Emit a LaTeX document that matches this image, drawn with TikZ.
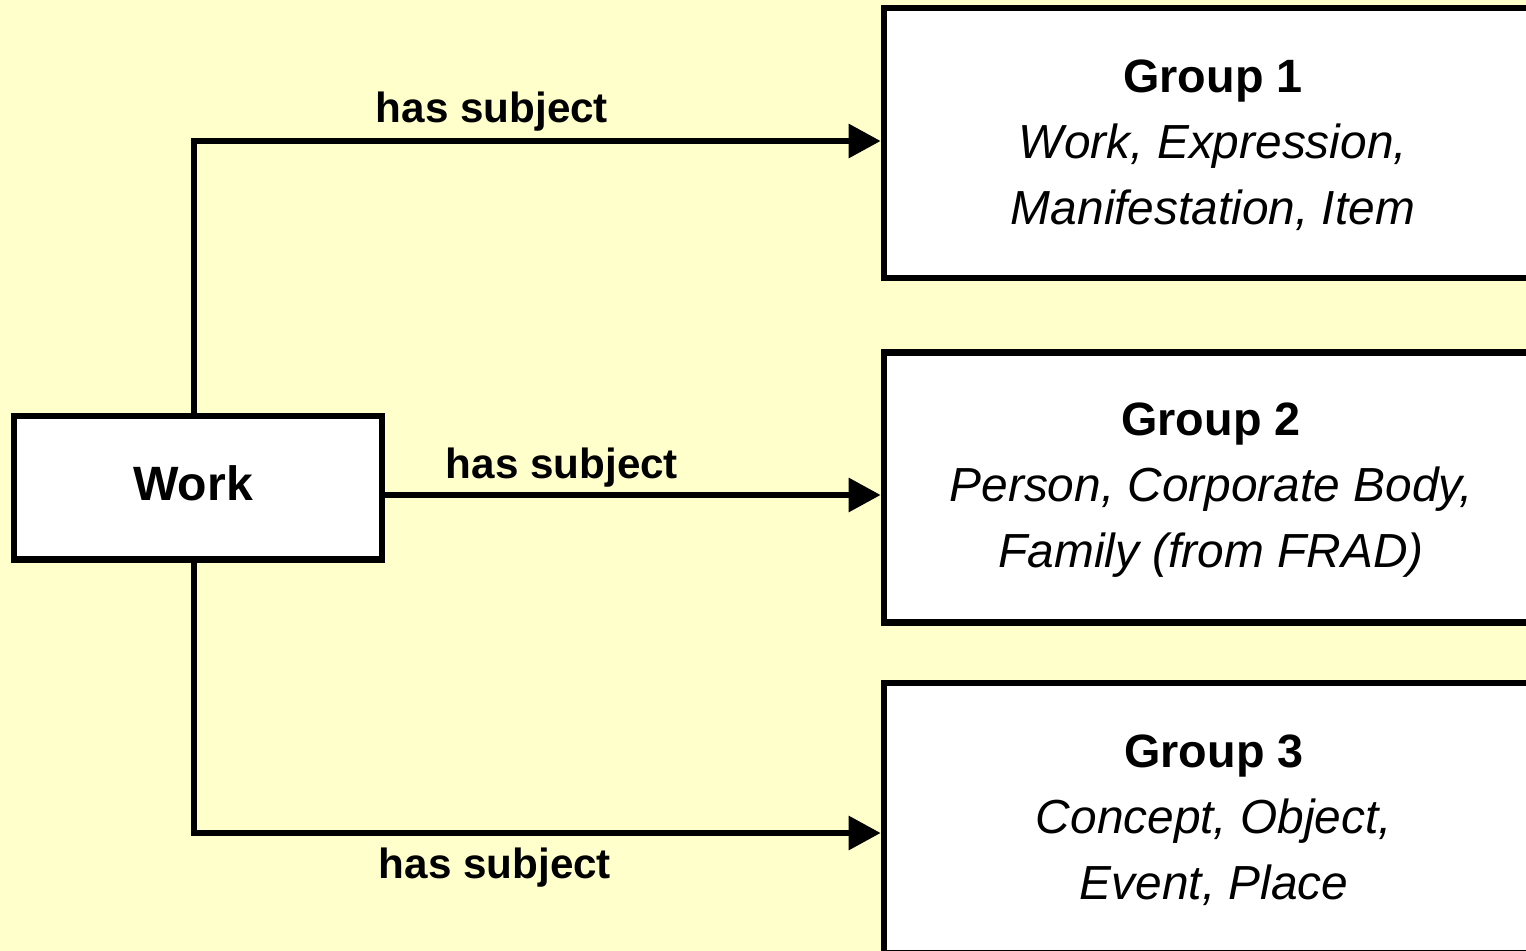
\documentclass[tikz,border=0pt]{standalone}
\usepackage{fontspec}
\setmainfont{Liberation Sans}
\usetikzlibrary{arrows.meta}
\definecolor{bgyellow}{HTML}{FFFFCC}
\newcommand{\grptitle}[1]{{\bfseries\fontsize{13.3pt}{18.8pt}\selectfont #1}}
\newcommand{\grpitem}[1]{{\itshape\fontsize{13.6pt}{18.8pt}\selectfont #1}}
\begin{document}
\begin{tikzpicture}[x=0.01cm,y=-0.01cm,
  box/.style={draw=black,fill=white,line width=1.8pt,rectangle,inner sep=0pt},
  grp/.style={box,minimum width=6.48cm,minimum height=2.70cm},
  gtext/.style={align=center,inner sep=0pt,font=\fontsize{13.6pt}{18.8pt}\selectfont},
  conn/.style={line width=1.7pt,-{Triangle[length=9.1pt,width=9.4pt]}},
  lbl/.style={font=\bfseries\fontsize{12pt}{14pt}\selectfont,inner sep=0pt}]
\useasboundingbox (0,0) rectangle (1526,951);
\clip (0,0) rectangle (1526,951);
\fill[bgyellow] (0,0) rectangle (1526,951);
% boxes
\node[box,minimum width=3.68cm,minimum height=1.435cm] (work) at (198,487.75) {};
\node[font=\bfseries\fontsize{13.7pt}{16pt}\selectfont,inner sep=0pt] (worktext) at (193,483) {Work};
\node[grp] (g1) at (1208,143) {};
\node[grp] (g2) at (1208,487.5) {};
\node[grp] (g3) at (1208,818) {};
\node[gtext] (g1t) at (1213,145) {\grptitle{Group 1}\\\grpitem{Work, Expression,}\\\grpitem{Manifestation, Item}};
\node[gtext] (g2t) at (1211,490) {\grptitle{Group 2}\\\grpitem{Person, Corporate Body,}\\\grpitem{Family (from FRAD)}};
\node[gtext] (g3t) at (1214,820) {\grptitle{Group 3}\\\grpitem{Concept, Object,}\\\grpitem{Event, Place}};
% helper coordinates
\coordinate (ytop) at (0,141);
\coordinate (ymid) at (0,495);
\coordinate (ybot) at (0,833);
% connectors
\draw[conn] ([xshift=-0.04cm]work.north) |- (g1.west |- ytop);
\draw[conn] (work.east |- ymid) -- (g2.west |- ymid);
\draw[conn] ([xshift=-0.04cm]work.south) |- (g3.west |- ybot);
% labels
\node[lbl] (l1) at (492,112) {has subject};
\node[lbl] (l2) at (562,468) {has subject};
\node[lbl] (l3) at (495,868) {has subject};
\end{tikzpicture}
\end{document}
